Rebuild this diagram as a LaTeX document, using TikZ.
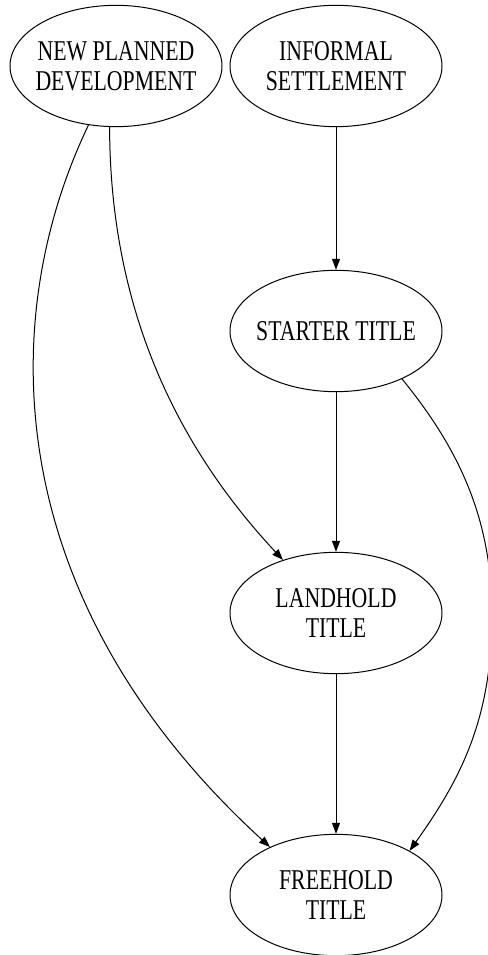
\documentclass[tikz,border=0pt]{standalone}
\usepackage{fontspec}
\setmainfont{Liberation Serif}[FakeStretch=0.76]
\usetikzlibrary{shapes.geometric,arrows.meta}
\tikzset{
  gv/.style={draw, ellipse, line width=0.75pt, inner sep=0pt,
    minimum width=159pt, minimum height=91pt},
  gvtext/.style={font=\fontsize{21.5}{22.5}\selectfont, align=center, inner sep=0pt},
  arr/.style={line width=0.75pt, -{Triangle[length=8.25pt,width=6pt]}}
}
\begin{document}
\begin{tikzpicture}[x=0.75pt,y=-0.75pt]
\useasboundingbox (0,0) rectangle (488,955);
\node[gv, label={[gvtext]center:{NEW PLANNED\\DEVELOPMENT}}] (npd) at (116,66) {};
\node[gv, label={[gvtext]center:{INFORMAL\\SETTLEMENT}}] (is) at (336,66) {};
\node[gv, label={[gvtext]center:{STARTER TITLE}}] (st) at (336,331) {};
\node[gv, label={[gvtext]center:{LANDHOLD\\TITLE}}] (lt) at (336,613) {};
\node[gv, label={[gvtext]center:{FREEHOLD\\TITLE}}] (ft) at (336,895) {};

\draw[arr] (is) -- (st);
\draw[arr] (st) -- (lt);
\draw[arr] (lt) -- (ft);
\draw[arr] (npd.264) .. controls (110,320) and (185,455) .. (lt.135.5);
\draw[arr] (npd.245) .. controls (-5,320) and (0,600) .. (ft.144.5);
\draw[arr] (st.-36.4) .. controls (460,450) and (492,520) .. (492,615)
  .. controls (492,720) and (460,780) .. (ft.31.4);
\end{tikzpicture}
\end{document}
